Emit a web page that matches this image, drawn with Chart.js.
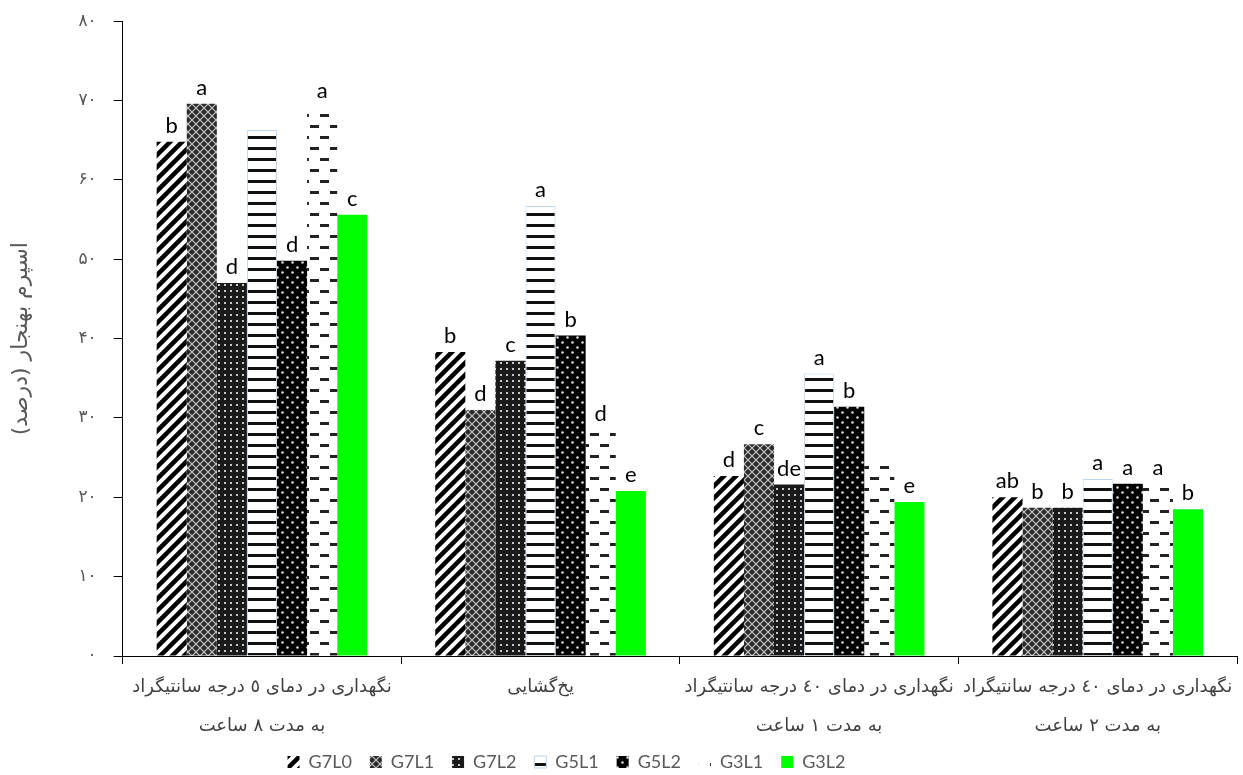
<!DOCTYPE html>
<html>
<head>
<meta charset="utf-8">
<script src="https://cdn.jsdelivr.net/npm/chart.js"></script>
<style>
  html, body { margin: 0; padding: 0; background: #fff; }
  #wrap { width: 1243px; height: 775px; }
</style>
</head>
<body>
<div id="wrap"><canvas id="myChart"></canvas></div>
<script>
// categories (x axis, two-line labels)
var categories = [
    ['نگهداری در دمای ٥ درجه سانتیگراد', 'به مدت ٨ ساعت'],
    'یخ‌گشایی',
    ['نگهداری در دمای ٤٠ درجه سانتیگراد', 'به مدت ١ ساعت'],
    ['نگهداری در دمای ٤٠ درجه سانتیگراد', 'به مدت ٢ ساعت']
];

// series values (% normal sperm)
var G7L0 = [64.8, 38.3, 22.7, 20.0];
var G7L1 = [69.6, 31.0, 26.7, 18.7];
var G7L2 = [47.0, 37.2, 21.6, 18.7];
var G5L1 = [66.3, 56.7, 35.6, 22.3];
var G5L2 = [49.8, 40.4, 31.4, 21.7];
var G3L1 = [69.2, 28.5, 24.5, 21.7];
var G3L2 = [55.6, 20.8, 19.4, 18.5];

// significance letters above the bars
var lettersG7L0 = ['b', 'b', 'd', 'ab'];
var lettersG7L1 = ['a', 'd', 'c', 'b'];
var lettersG7L2 = ['d', 'c', 'de', 'b'];
var lettersG5L1 = ['', 'a', 'a', 'a'];
var lettersG5L2 = ['d', 'b', 'b', 'a'];
var lettersG3L1 = ['a', 'd', '', 'a'];
var lettersG3L2 = ['c', 'e', 'e', 'b'];

// y tick labels (Persian digits)
var yTicks = ['۰', '۱۰', '۲۰', '۳۰', '۴۰', '۵۰', '۶۰', '۷۰', '۸۰'];

var ctx = document.getElementById('myChart').getContext('2d');

// small helper to build the hatch fills
function makePattern(w, h, draw) {
    var c = document.createElement('canvas');
    c.width = w; c.height = h;
    var g = c.getContext('2d');
    draw(g, w, h);
    return ctx.createPattern(c, 'repeat');
}

var patStripes = makePattern(12, 12, function (g) {
    g.fillStyle = '#fff'; g.fillRect(0, 0, 12, 12);
    g.strokeStyle = '#000'; g.lineWidth = 4.5;
    g.beginPath();
    g.moveTo(-3, 15); g.lineTo(15, -3);
    g.moveTo(-3, 3); g.lineTo(3, -3);
    g.moveTo(9, 15); g.lineTo(15, 9);
    g.stroke();
});
var patLattice = makePattern(8, 8, function (g) {
    g.fillStyle = '#2a2a2a'; g.fillRect(0, 0, 8, 8);
    g.strokeStyle = '#c8c8c8'; g.lineWidth = 1.2;
    g.beginPath();
    g.moveTo(0, 0); g.lineTo(8, 8);
    g.moveTo(8, 0); g.lineTo(0, 8);
    g.stroke();
});
var patSmallDots = makePattern(6, 6, function (g) {
    g.fillStyle = '#1a1a1a'; g.fillRect(0, 0, 6, 6);
    g.fillStyle = '#c8c8c8'; g.fillRect(2, 2, 2, 2);
});
var patHLines = makePattern(4, 11, function (g) {
    g.fillStyle = '#fff'; g.fillRect(0, 0, 4, 11);
    g.fillStyle = '#111'; g.fillRect(0, 4, 4, 3);
});
var patBigDots = makePattern(10, 10, function (g) {
    g.fillStyle = '#000'; g.fillRect(0, 0, 10, 10);
    g.fillStyle = '#ddd';
    g.beginPath(); g.arc(2.5, 2.5, 1.3, 0, Math.PI * 2); g.fill();
    g.beginPath(); g.arc(7.5, 7.5, 1.3, 0, Math.PI * 2); g.fill();
});
var patDashes = makePattern(20, 22, function (g) {
    g.fillStyle = '#fff'; g.fillRect(0, 0, 20, 22);
    g.fillStyle = '#222';
    g.fillRect(0, 4, 9, 3);
    g.fillRect(10, 15, 9, 3);
});

var seriesLetters = [lettersG7L0, lettersG7L1, lettersG7L2, lettersG5L1, lettersG5L2, lettersG3L1, lettersG3L2];

// letters above each bar, placed from the bar elements
var letterPlugin = {
    id: 'letters',
    afterDatasetsDraw: function (chart) {
        var c = chart.ctx;
        c.save();
        c.font = '22px Lato';
        c.fillStyle = '#000';
        c.textAlign = 'center';
        c.textBaseline = 'bottom';
        chart.data.datasets.forEach(function (ds, i) {
            chart.getDatasetMeta(i).data.forEach(function (bar, j) {
                var t = seriesLetters[i][j];
                if (t) c.fillText(t, bar.x, bar.y - 5);
            });
        });
        c.restore();
    }
};

// the legend sits a bit left of centre in the original
var legendShift = {
    id: 'legendShift',
    afterLayout: function (chart) {
        chart.legend.left -= 56;
        chart.legend.right -= 56;
    }
};

var chart = new Chart(ctx, {
    type: 'bar',
    data: {
        labels: categories,
        datasets: [
            { label: 'G7L0', data: G7L0, backgroundColor: patStripes, borderWidth: 0 },
            { label: 'G7L1', data: G7L1, backgroundColor: patLattice, borderWidth: 0 },
            { label: 'G7L2', data: G7L2, backgroundColor: patSmallDots, borderWidth: 0 },
            { label: 'G5L1', data: G5L1, backgroundColor: patHLines, borderColor: '#bdd7ee', borderWidth: 1 },
            { label: 'G5L2', data: G5L2, backgroundColor: patBigDots, borderWidth: 0 },
            { label: 'G3L1', data: G3L1, backgroundColor: patDashes, borderWidth: 0 },
            { label: 'G3L2', data: G3L2, backgroundColor: '#00ff00', borderWidth: 0 }
        ]
    },
    options: {
        responsive: true,
        maintainAspectRatio: false,
        animation: false,
        layout: { padding: { top: 3, right: 6, left: 8, bottom: -6 } },
        datasets: { bar: { barPercentage: 1.0, categoryPercentage: 0.756 } },
        scales: {
            x: {
                grid: { drawOnChartArea: false, color: '#000', tickLength: 8, offset: true },
                border: { color: '#000', width: 1 },
                ticks: {
                    autoSkip: false, maxRotation: 0, padding: 4,
                    color: '#404040',
                    font: { family: 'DejaVu Sans', size: 18, lineHeight: 2.17 }
                },
                afterFit: function (scale) { scale.height = 79; }
            },
            y: {
                min: 0, max: 80,
                grid: { drawOnChartArea: false, color: '#000', tickLength: 9 },
                border: { color: '#000', width: 1 },
                ticks: {
                    stepSize: 10, padding: 17, color: '#595959',
                    font: { family: 'DejaVu Sans', size: 17, lineHeight: 0.5 },
                    callback: function (v) { return yTicks[v / 10]; }
                },
                title: {
                    display: true, text: 'اسپرم بهنجار (درصد)', color: '#595959',
                    font: { family: 'DejaVu Sans', size: 22 }, padding: { top: 0, bottom: 27 }
                }
            }
        },
        plugins: {
            legend: {
                position: 'bottom',
                labels: {
                    boxWidth: 12, boxHeight: 12, padding: 18,
                    color: '#595959', font: { family: 'Lato', size: 18 }
                }
            },
            tooltip: { enabled: false }
        }
    },
    plugins: [letterPlugin, legendShift]
});
</script>
</body>
</html>
